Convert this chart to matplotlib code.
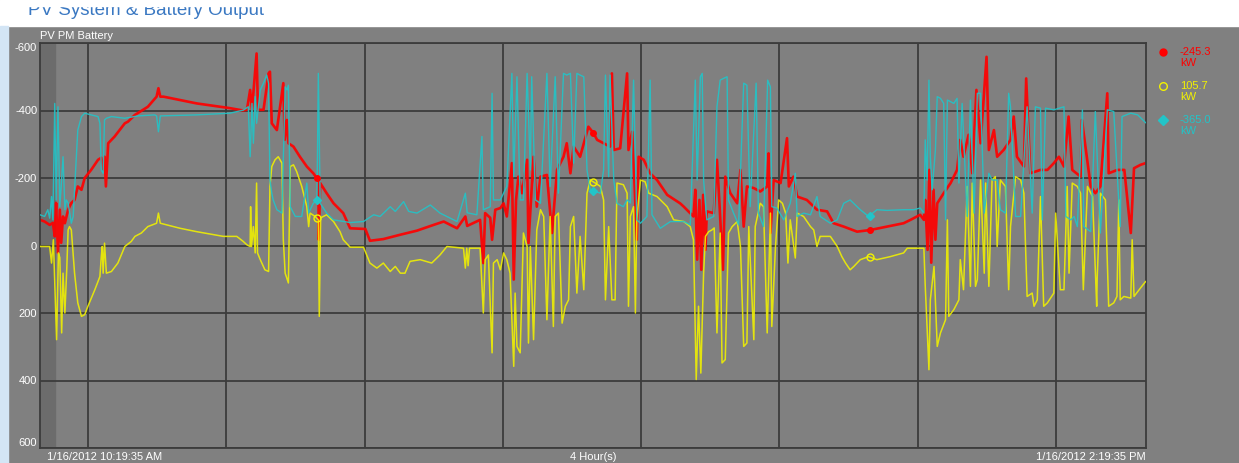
import numpy as np
import matplotlib
matplotlib.use('Agg')
import matplotlib.pyplot as plt
from matplotlib.lines import Line2D
from matplotlib.patches import Rectangle

plt.rcParams['font.family'] = ['Liberation Sans', 'DejaVu Sans']

# tiempo en minutos desde 1/16/2012 10:19:35 AM, valores en kW
pv_t = [0, 1.0, 2.1, 2.8, 3.2, 3.5, 3.9, 4.3, 4.6, 5.0, 5.4, 6.1, 6.8, 7.5, 8.2, 9.0, 9.7, 11.1, 12.6, 13.3,
        13.7, 14.0, 14.3, 14.8, 16.2, 18.4, 19.1, 20.6, 23.4, 25.3, 25.7, 26.1, 26.8, 30.4, 34.0, 37.6, 41.2,
        44.1, 44.9, 45.6, 46.0, 47.0, 47.3, 48.5, 49.6, 49.9, 50.3, 51.4, 52.8, 53.1, 53.6, 53.9, 55.0, 56.4,
        57.9, 59.3, 60.4, 60.5, 60.8, 62.2, 63.7, 65.8, 67.3, 70.6, 71.6, 74.5, 78.2, 81.8, 85.4, 87.6, 90.5,
        92.3, 92.7, 95.5, 96.2, 96.6, 97.7, 98.1, 98.8, 99.9, 100.6, 101.3, 102.4, 102.8, 103.3, 103.8, 104.6,
        105.7, 106.0, 107.1, 107.8, 108.6, 110.0, 111.1, 112.2, 113.6, 114.3, 115.1, 115.8, 117.2, 119.0,
        120.1, 120.9, 122.3, 123.7, 124.1, 124.5, 125.9, 127.4, 127.7, 128.5, 128.8, 129.5, 129.9, 131.0,
        132.4, 133.9, 136.1, 138.9, 139.7, 141.8, 142.2, 142.6, 143.1, 143.5, 143.9, 144.4, 144.7, 146.2,
        146.9, 147.4, 148.2, 148.7, 149.8, 151.3, 152.0, 152.7, 153.4, 154.9, 156.3, 157.8, 158.1, 158.5,
        159.2, 160.7, 162.1, 162.5, 163.5, 164.3, 166.4, 168.6, 170.8, 172.2, 174.4, 177.3, 180.2, 183.8,
        187.4, 188.9, 191.0, 191.8, 192.1, 192.6, 193.0, 193.4, 193.9, 194.3, 194.7, 196.1, 197.6, 199.0,
        199.7, 200.4, 201.5, 202.3, 203.2, 204.1, 205.4, 205.9, 207.0, 207.7, 209.1, 210.6, 211.3, 212.0,
        213.5, 214.0, 214.9, 217.1, 218.6, 220.0, 221.1, 222.2, 223.2, 224.0, 225.8, 226.1, 228.0, 229.0,
        230.1, 231.6, 231.9, 233.8, 235.3, 236.7, 237.4, 238.8, 239.9]
pv_kw = [-76, -71, -61, -67, -27, -126, 22, -106, -8, -86, -66, -106, -126, -135, -175, -165, -200, -224, -254, -260,
         -224, -263, -175, -303, -323, -362, -367, -387, -411, -441, -466, -441, -441, -431, -421, -414, -407,
         -400, -402, -461, -402, -569, -402, -402, -510, -515, -362, -342, -481, -313, -372, -303, -293, -263,
         -234, -214, -194, -17, -185, -155, -125, -96, -51, -49, -14, -19, -32, -44, -61, -71, -51,
         -86, -58, -76, 52, -96, -82, -17, -106, -111, -125, -86, -244, 101, -135, -204, -155,
         -254, -7, -263, -115, -204, -209, -37, -224, -263, -303, -214, -293, -263, -352,
         -333, -313, -303, -293, -510, -283, -288, -510, -283, -337, -254, -17, -263, -254,
         -214, -194, -150, -125, -115, -86, -165, 42, -135, 72, -150, 13, -101, -96,
         -254, -135, 72, -204, -155, -125, -224, -56, -175, -170, -160, -175, -273, -37,
         -194, -185, -318, -175, -204, -145, -135, -106, -101, -66, -56, -41, -46, -56,
         -66, -76, -91, -76, -135, 13, -224, 51, -165, -17, -125, -155, -185, -224,
         -313, -263, -328, -214, -461, -303, -559, -283, -342, -263, -283, -313, -382, -263,
         -234, -495, -214, -224, -224, -244, -263, -234, -382, -224, -204, -372, -175, -155,
         -175, -451, -214, -224, -224, -37, -229, -239, -244]

pm_t = [0, 2.1, 2.5, 2.9, 3.6, 4.0, 4.3, 4.7, 5.0, 5.4, 5.8, 6.1, 6.4, 6.8, 7.5, 8.2, 9.0, 9.7, 10.4, 11.9,
        13.0, 13.3, 13.5, 13.7, 14.0, 14.4, 15.5, 16.9, 18.4, 19.8, 20.6, 22.0, 23.4, 25.3, 25.7, 26.1, 30.4,
        34.0, 39.8, 42.7, 44.1, 44.9, 45.6, 45.7, 45.9, 46.3, 46.7, 47.0, 47.2, 47.8, 48.8, 49.6, 49.9, 50.3,
        51.0, 51.7, 52.5, 52.8, 53.2, 53.9, 54.3, 55.0, 55.7, 56.8, 57.9, 58.3, 58.6, 59.7, 60.4, 60.6, 60.9,
        62.2, 63.7, 65.1, 65.8, 67.3, 70.2, 71.6, 73.1, 74.5, 76.0, 77.1, 78.2, 79.2, 80.3, 82.5, 85.0, 86.8,
        88.3, 91.9, 92.3, 92.6, 92.9, 93.2, 95.5, 96.2, 96.6, 97.3, 98.1, 98.4, 99.2, 99.9, 100.6, 101.3,
        102.0, 102.8, 103.1, 103.5, 104.2, 104.9, 105.7, 106.0, 106.4, 107.1, 107.8, 108.6, 109.3, 110.0,
        110.7, 111.4, 111.8, 112.5, 113.3, 114.0, 114.7, 115.1, 115.8, 116.5, 117.2, 118.0, 118.7, 119.4,
        120.5, 121.6, 122.3, 122.7, 123.4, 124.1, 124.8, 125.2, 126.6, 127.4, 127.7, 128.1, 128.8, 129.2,
        129.5, 130.3, 131.3, 132.1, 133.9, 136.1, 137.5, 139.7, 141.1, 141.8, 142.4, 142.9, 143.4, 144.0,
        144.4, 145.1, 145.8, 146.3, 146.9, 147.6, 148.0, 148.7, 149.4, 150.2, 151.3, 152.0, 152.7, 153.4,
        153.8, 154.9, 155.2, 156.3, 157.0, 157.8, 158.5, 158.8, 159.6, 160.3, 161.1, 161.8, 162.3, 162.8,
        163.9, 164.3, 165.7, 167.2, 167.9, 168.6, 169.3, 171.5, 173.0, 174.0, 174.8, 175.8, 176.6, 178.0,
        179.8, 181.6, 184.5, 187.4, 188.2, 191.8, 192.1, 192.9, 193.2, 194.0, 194.7, 195.4, 196.5, 196.9,
        197.2, 198.3, 199.4, 199.7, 200.4, 201.2, 201.9, 202.3, 203.0, 203.4, 204.1, 204.9, 205.2, 205.9,
        206.6, 207.3, 207.7, 208.4, 209.5, 210.2, 210.6, 211.7, 212.8, 213.5, 214.2, 215.3, 215.7, 216.4,
        217.1, 217.8, 218.6, 220.0, 220.4, 221.4, 222.2, 222.9, 223.3, 224.0, 225.1, 225.8, 226.4, 227.3,
        228.4, 229.3, 229.4, 230.1, 231.2, 231.9, 233.0, 233.7, 234.1, 234.4, 235.2, 236.7, 237.0, 237.4,
        238.8, 239.9]
pm_kw = [3, 3, 52, -17, 279, 22, 36, 259, 82, 200, 72, -46, -56, -46, 82, 170, 210, 205, 180, 131,
         92, 33, 3, 82, -7, 82, 77, 52, 3, -12, -27, -37, -56, -66, -96, -66, -51,
         -41, -27, -27, -12, -2, 3, -115, 3, -56, 22, -185, 22, 42, 72, 77, -175, -234,
         -254, -263, -244, -17, 82, 111, -234, -239, -219, -175, -115, -56, -96, -86, -76, 210, -82,
         -91, -71, -41, -17, 5, 5, 52, 67, 52, 77, 62, 82, 82, 47, 42, 52, 28,
         3, 8, 67, 8, 60, 8, 8, 200, 42, 28, 318, 52, 42, 72, 22, 42,
         82, 358, 141, 299, 318, -37, 3, 289, 3, 279, -46, -106, -86, 220,
         -86, 240, -86, -96, 230, 180, 161, -56, -86, 141, -27, 131, -155, -194,
         -185, -175, -135, 161, -56, 161, 161, -185, -180, -155, 180, -86, -115, 200,
         -76, -194, -189, -155, -145, -115, -76, -71, -56, -17, 397, 180, 378, 82,
         -27, -41, -46, -52, 259, -37, 348, 338, -37, -56, -71, 3, 299, 289,
         -56, 279, -56, -125, -115, 259, -96, 240, 3, -135, -125, -96, 52, -76,
         37, -96, -86, -56, -46, 3, -27, -27, 3, 33, 52, 72, 62, 42,
         33, 42, 33, 22, 8, 8, 121, 368, 161, 62, 299, 259, 220, -76,
         210, 190, 161, 42, 131, -175, 121, -185, 121, 101, -194, 82, -185, 121,
         -194, -204, 3, -194, -175, 131, -56, -204, -194, -155, 151, 141, 180, 161,
         -145, 180, 170, 141, -96, 131, 131, -175, 82, -185, -175, -155, 131, -175,
         -145, 180, 101, -155, -135, 180, 170, 151, -135, 161, 151, 156, -17, 151,
         126, 107]

batt_t = [0, 1.0, 1.7, 2.1, 2.5, 2.8, 3.2, 3.5, 3.9, 4.3, 4.6, 5.0, 5.4, 5.7, 6.1, 6.8, 7.2, 7.5, 7.9, 8.2,
          9.0, 9.7, 11.1, 12.6, 13.0, 13.3, 13.7, 14.0, 14.4, 15.5, 18.4, 21.3, 24.9, 25.3, 25.7, 26.1, 34.0,
          41.2, 44.1, 45.2, 45.6, 46.0, 46.3, 46.7, 47.0, 47.8, 48.5, 49.2, 49.6, 49.9, 50.3, 50.6, 51.4, 52.5,
          53.2, 53.6, 53.9, 54.3, 55.4, 56.8, 57.9, 58.3, 59.3, 60.1, 60.4, 60.8, 62.2, 63.7, 67.3, 70.2, 72.4,
          73.8, 76.0, 77.1, 78.9, 80.0, 81.8, 84.7, 86.8, 90.5, 92.3, 92.7, 94.8, 95.9, 96.2, 97.7, 98.1, 98.4,
          99.9, 100.6, 101.3, 102.4, 102.8, 103.5, 104.2, 104.9, 105.7, 106.4, 106.7, 107.5, 108.6, 110.0,
          110.7, 111.8, 112.5, 113.6, 114.3, 115.1, 115.8, 116.5, 117.2, 118.0, 118.7, 119.4, 120.5, 121.6,
          122.3, 122.7, 123.4, 123.7, 124.5, 125.2, 126.6, 127.4, 128.1, 128.8, 129.5, 130.3, 131.7, 132.4,
          132.8, 134.6, 136.8, 139.7, 141.1, 142.2, 142.6, 143.3, 143.7, 144.0, 144.7, 146.2, 146.9, 147.6,
          148.3, 149.1, 149.4, 150.5, 151.6, 152.7, 153.4, 154.1, 155.4, 155.9, 157.0, 157.9, 158.5, 158.8,
          159.9, 161.4, 162.8, 163.9, 164.3, 165.7, 167.2, 168.6, 169.3, 171.5, 173.0, 174.4, 175.8, 178.0,
          179.8, 181.6, 183.8, 187.4, 189.6, 191.0, 191.8, 192.1, 192.5, 192.9, 193.2, 193.6, 194.0, 194.3,
          194.7, 195.4, 196.1, 196.5, 196.9, 198.3, 199.0, 199.4, 200.1, 201.2, 201.9, 202.7, 203.4, 204.1,
          204.9, 205.9, 206.6, 207.7, 208.4, 209.5, 210.2, 210.6, 211.7, 212.8, 214.2, 215.3, 216.0, 217.1,
          217.5, 218.2, 220.0, 222.2, 222.6, 223.7, 224.4, 225.1, 226.2, 226.5, 228.0, 229.0, 230.1, 231.6,
          233.0, 234.4, 234.8, 236.7, 238.2, 239.9]
batt_kw = [-91, -86, -106, -81, -145, -76, -421, -135, -411, -115, -175, -263, -106, -135, -126, -66, -86, -165, -263, -342,
           -382, -392, -387, -382, -362, -224, -214, -372, -377, -382, -377, -384, -387, -384, -337, -384, -387,
           -392, -401, -411, -263, -421, -303, -441, -362, -461, -481, -505, -481, -194, -155, -135, -106, -96,
           -470, -461, -475, -115, -86, -86, -185, -96, -125, -135, -510, -125, -96, -76, -68, -71, -91,
           -86, -115, -101, -130, -101, -96, -120, -96, -71, -155, -97, -91, -323, -106, -115, -451, -135,
           -135, -155, -175, -510, -204, -500, -135, -135, -510, -224, -500, -135, -125, -510,
           -175, -500, -155, -510, -505, -510, -244, -510, -505, -500, -224, -165, -160, -155,
           -224, -505, -204, -505, -194, -125, -115, -135, -126, -490, -76, -66, -86, -490,
           -91, -51, -71, -71, -61, -490, -194, -500, -510, -194, -76, -86, -411, -490,
           -495, -500, -135, -96, -61, -481, -475, -115, -481, -96, -56, -490, -470, -115,
           -111, -76, -125, -214, -86, -96, -91, -145, -86, -66, -76, -125, -135, -106,
           -86, -106, -104, -106, -106, -111, -96, -313, -194, -490, -263, -165, -234, -283,
           -441, -436, -421, -76, -431, -421, -436, -185, -421, -86, -431, -96, -451, -451,
           -96, -214, -194, -194, -106, -96, -451, -411, -86, -86, -411, -96, -411, -407,
           -76, -407, -402, -411, -86, -76, -86, -56, -402, -56, -41, -397, -37, -402,
           -397, -56, -382, -392, -387, -364]

series_colors = ['#ff0000', '#f2f200', '#22c4c8']
last_values = ['-245.3', '105.7', '-365.0']
marker_times = [60, 120, 180]
grid_times = [10 + 25 / 60 + 30 * k for k in range(8)]  # 10:30 ... 2:00
y_ticks = [-600, -400, -200, 0, 200, 400, 600]
start_label = '1/16/2012 10:19:35 AM'
span_label = '4 Hour(s)'
end_label = '1/16/2012 2:19:35 PM'

W, H = 1239, 463
fig = plt.figure(figsize=(W / 100, H / 100), dpi=100, facecolor='#808080')

# franja blanca del encabezado (titulo cortado arriba) y borde azul de la ventana
fig.add_artist(Rectangle((0, 1 - 26 / H), 1, 26 / H, transform=fig.transFigure, color='white', zorder=0))
fig.add_artist(Rectangle((0, 0), 8 / W, 1 - 26 / H, transform=fig.transFigure, color='#d3e5f5', zorder=0))
fig.text(28 / W, 1 - 15 / H, 'PV System & Battery Output', color='#3a78c2', fontsize=13.5,
         va='baseline', ha='left', zorder=1)
fig.add_artist(Rectangle((0, 1 - 6 / H), 1, 6 / H, transform=fig.transFigure, color='white', zorder=2))

ax = fig.add_axes([40 / W, 15 / H, 1106 / W, 405 / H])
ax.set_facecolor('#808080')
ax.axvspan(0, 3.3, color='#6c6c6c', zorder=0)

ax.plot(pv_t, pv_kw, color=series_colors[0], lw=1.9, alpha=0.92, zorder=2)
ax.plot(pm_t, pm_kw, color=series_colors[1], lw=1.1, alpha=0.88, zorder=3)
ax.plot(batt_t, batt_kw, color=series_colors[2], lw=1.0, alpha=0.9, zorder=4)

ax.plot(marker_times, np.interp(marker_times, pv_t, pv_kw), 'o', color=series_colors[0], ms=4, zorder=5)
ax.plot(marker_times, np.interp(marker_times, pm_t, pm_kw), 'o', mfc='none', mec=series_colors[1],
        mew=1, ms=5, zorder=5)
ax.plot(marker_times, np.interp(marker_times, batt_t, batt_kw), 'D', color=series_colors[2], ms=4.5, zorder=5)

ax.set_xlim(0, 240)
ax.set_ylim(600, -600)
ax.set_xticks(grid_times)
ax.set_xticklabels([])
ax.set_yticks(y_ticks)
ax.set_yticklabels([str(v) for v in y_ticks])
ax.tick_params(length=0, pad=2, labelcolor='white', labelsize=8)
ylabels = ax.get_yticklabels()
ylabels[0].set_va('top')
ylabels[-1].set_va('bottom')
ax.grid(True, color='#3c3c3c', lw=1.3, zorder=1)
for s in ax.spines.values():
    s.set_color('#3c3c3c')
    s.set_linewidth(1.3)

fig.text(40 / W, 1 - 36 / H, 'PV PM Battery', color='white', fontsize=8, va='center', ha='left')
fig.text(47 / W, 1 - 457 / H, start_label, color='white', fontsize=8, va='center', ha='left')
fig.text(593 / W, 1 - 457 / H, span_label, color='white', fontsize=8, va='center', ha='center')
fig.text(1146 / W, 1 - 457 / H, end_label, color='white', fontsize=8, va='center', ha='right')

# leyenda con el ultimo valor de cada serie
legend_markers = [dict(marker='o', color=series_colors[0], ms=5),
                  dict(marker='o', mfc='none', mec=series_colors[1], mew=1, ms=5.5),
                  dict(marker='D', color=series_colors[2], ms=5)]
for i, (val, c, mk) in enumerate(zip(last_values, series_colors, legend_markers)):
    y = 1 - (52 + 34 * i) / H
    fig.add_artist(Line2D([1163 / W], [y], transform=fig.transFigure, ls='none', **mk))
    fig.text(1180 / W, y + 5 / H, val + '\nkW', color=c, fontsize=8, va='top', ha='left', linespacing=1.15)

fig.savefig('out.png', dpi=100, facecolor=fig.get_facecolor())
